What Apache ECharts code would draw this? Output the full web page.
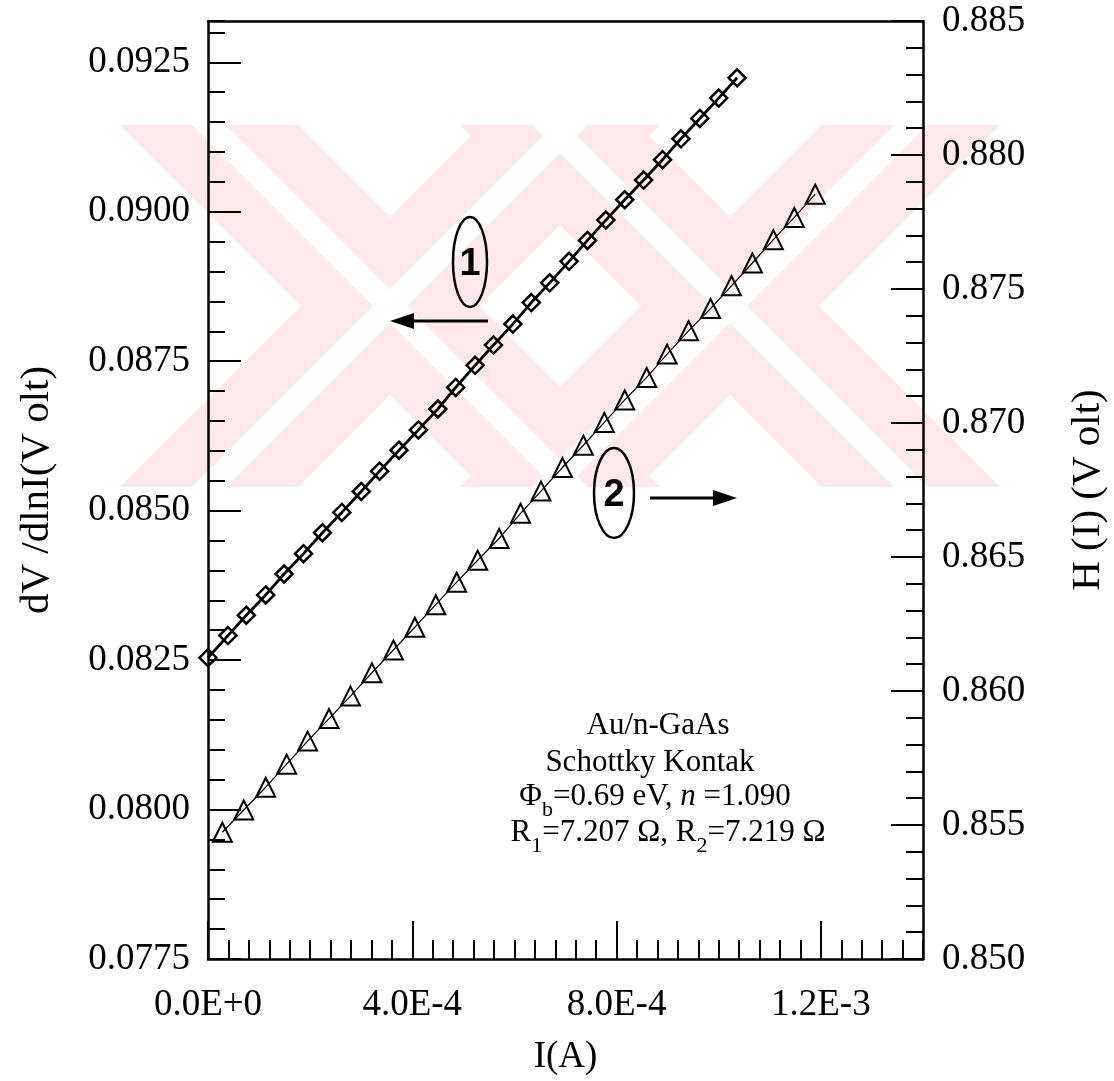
<!DOCTYPE html>
<html>
<head>
<meta charset="utf-8">
<script src="https://cdn.jsdelivr.net/npm/echarts@6/dist/echarts.min.js"></script>
<style>
  html, body { margin: 0; padding: 0; background: #fff; }
  #chart { width: 1114px; height: 1081px; }
</style>
</head>
<body>
<div id="chart"></div>
<script>
// curve 1: dV/dlnI (left axis), diamonds
var current1 = [0, 3.9e-5, 7.5e-5, 1.13e-4, 1.49e-4, 1.87e-4, 2.24e-4, 2.62e-4, 3.0e-4, 3.36e-4,
  3.74e-4, 4.12e-4, 4.5e-4, 4.85e-4, 5.23e-4, 5.59e-4, 5.97e-4, 6.33e-4, 6.69e-4, 7.07e-4,
  7.43e-4, 7.79e-4, 8.16e-4, 8.53e-4, 8.9e-4, 9.26e-4, 9.63e-4, 1.0e-3, 1.036e-3];
var dvdlni = [0.08254, 0.08291, 0.08325, 0.08359, 0.08394, 0.08428, 0.08463, 0.08497, 0.08532, 0.08566,
  0.08601, 0.08635, 0.08670, 0.08706, 0.08743, 0.08777, 0.08812, 0.08848, 0.08881, 0.08917,
  0.08952, 0.08986, 0.09020, 0.09053, 0.09087, 0.09122, 0.09156, 0.09190, 0.09224];

// curve 2: H(I) (right axis), triangles
var current2 = [2.8e-5, 7.0e-5, 1.13e-4, 1.54e-4, 1.95e-4, 2.37e-4, 2.79e-4, 3.21e-4, 3.63e-4, 4.05e-4,
  4.46e-4, 4.87e-4, 5.28e-4, 5.70e-4, 6.12e-4, 6.52e-4, 6.94e-4, 7.35e-4, 7.76e-4, 8.16e-4,
  8.59e-4, 8.99e-4, 9.41e-4, 9.84e-4, 1.025e-3, 1.066e-3, 1.107e-3, 1.148e-3, 1.189e-3];
var hValues = [0.85473, 0.85556, 0.85641, 0.85727, 0.85813, 0.85897, 0.85981, 0.86068, 0.86153, 0.86238,
  0.86322, 0.86406, 0.86488, 0.86569, 0.86663, 0.86746, 0.86834, 0.86917, 0.87002, 0.87086,
  0.87170, 0.87257, 0.87344, 0.87427, 0.87512, 0.87597, 0.87684, 0.87767, 0.87854];

// axis ranges
var xRange = [0, 1.4e-3];
var leftRange = [0.0775, 0.09319];
var rightRange = [0.850, 0.885];

var FONT = '"Liberation Serif", "DejaVu Serif", serif';
var PINK = '#fde9ed';

var myChart = echarts.init(document.getElementById('chart'));

function zip(xs, ys) {
  return xs.map(function (x, i) { return [x, ys[i]]; });
}

// watermark: two double-stroked X shapes clipped to a horizontal band
function bandPoly(cx, dir, half, y0, y1, cy) {
  var a = cx + dir * (y0 - cy), b = cx + dir * (y1 - cy);
  return [[a - half, y0], [a + half, y0], [b + half, y1], [b - half, y1]];
}
var wmCenters = [390, 730];
var wm = [];
wmCenters.forEach(function (cx) {
  [1, -1].forEach(function (dir) {
    wm.push({ type: 'polygon', z: -10, silent: true,
      shape: { points: bandPoly(cx, dir, 89, 125, 487, 306) }, style: { fill: PINK } });
  });
});
wmCenters.forEach(function (cx) {
  [1, -1].forEach(function (dir) {
    wm.push({ type: 'polygon', z: -9, silent: true,
      shape: { points: bandPoly(cx, dir, 17, 125, 487, 306) }, style: { fill: '#fff' } });
  });
});

var txt = { fontFamily: FONT, fontSize: 31, fill: '#000' };
function label(x, y, text, rich) {
  return { type: 'text', x: x, y: y, z: 50,
    style: Object.assign({}, txt, { text: text, align: 'center', verticalAlign: 'middle', rich: rich }) };
}
// normal glyphs hang from the top of the line, subscripts sit at its bottom
var richSub = {
  n: { fontFamily: FONT, fontSize: 31, lineHeight: 32, verticalAlign: 'top' },
  i: { fontFamily: FONT, fontSize: 31, lineHeight: 32, fontStyle: 'italic', verticalAlign: 'top' },
  s: { fontFamily: FONT, fontSize: 22, lineHeight: 40, verticalAlign: 'bottom' }
};

var graphics = wm.concat([
  label(658, 726, 'Au/n-GaAs'),
  label(650, 763, 'Schottky Kontak'),
  label(655, 801, '{n|Φ}{s|b}{n|=0.69 eV, }{i|n}{n| =1.090}', richSub),
  label(668, 837, '{n|R}{s|1}{n|=7.207 Ω, R}{s|2}{n|=7.219 Ω}', richSub),
  // curve markers
  { type: 'ellipse', z: 50, shape: { cx: 470, cy: 262, rx: 17, ry: 45 }, style: { fill: 'none', stroke: '#000', lineWidth: 2.5 } },
  { type: 'text', z: 51, x: 470, y: 265, style: { text: '1', font: 'bold 38px "Liberation Sans", Arial, sans-serif', fill: '#000', align: 'center', verticalAlign: 'middle' } },
  { type: 'line', z: 50, shape: { x1: 488, y1: 321, x2: 412, y2: 321 }, style: { stroke: '#000', lineWidth: 3 } },
  { type: 'polygon', z: 50, shape: { points: [[390, 321], [414, 313], [414, 329]] }, style: { fill: '#000' } },
  { type: 'ellipse', z: 50, shape: { cx: 614, cy: 493, rx: 20, ry: 45 }, style: { fill: 'none', stroke: '#000', lineWidth: 2.5 } },
  { type: 'text', z: 51, x: 614, y: 496, style: { text: '2', font: 'bold 38px "Liberation Sans", Arial, sans-serif', fill: '#000', align: 'center', verticalAlign: 'middle' } },
  { type: 'line', z: 50, shape: { x1: 650, y1: 498, x2: 715, y2: 498 }, style: { stroke: '#000', lineWidth: 3 } },
  { type: 'polygon', z: 50, shape: { points: [[737, 498], [713, 490], [713, 506]] }, style: { fill: '#000' } }
]);

var axisFont = { fontFamily: FONT, fontSize: 37, color: '#000' };
var nameFont = { fontFamily: FONT, fontSize: 41, color: '#000' };
var noZeroLine = { onZero: false, lineStyle: { color: '#000', width: 2.5 } };

var option = {
  backgroundColor: '#fff',
  animation: false,
  grid: { left: 208, right: 191, top: 21, bottom: 122, containLabel: false, outerBoundsMode: 'none' },
  graphic: graphics,
  xAxis: [{
    type: 'value', position: 'bottom', min: xRange[0], max: xRange[1], interval: 4e-4,
    name: 'I(A)', nameLocation: 'middle', nameGap: 80,
    nameTextStyle: axisFont,
    axisLine: noZeroLine,
    axisTick: { inside: true, length: 38, lineStyle: { color: '#000', width: 2 } },
    splitLine: { show: false },
    axisLabel: Object.assign({ margin: 28, showMaxLabel: false,
      formatter: function (v) { return v.toExponential(1).toUpperCase(); } }, axisFont)
  }, {
    type: 'value', position: 'bottom', min: xRange[0], max: xRange[1], interval: 4e-5,
    axisLine: { show: false, onZero: false },
    axisTick: { inside: true, length: 19, lineStyle: { color: '#000', width: 2 } },
    axisLabel: { show: false }, splitLine: { show: false }
  }, {
    type: 'value', position: 'top', min: xRange[0], max: xRange[1],
    axisLine: noZeroLine,
    axisTick: { show: false }, axisLabel: { show: false }, splitLine: { show: false }
  }],
  yAxis: [{
    type: 'value', position: 'left', min: leftRange[0], max: leftRange[1], interval: 0.0025,
    name: 'dV /dlnI(V olt)', nameLocation: 'middle', nameGap: 150, nameRotate: 90,
    nameTextStyle: nameFont,
    axisLine: noZeroLine,
    axisTick: { inside: true, length: 33, lineStyle: { color: '#000', width: 2 } },
    splitLine: { show: false },
    axisLabel: Object.assign({ margin: 18, showMaxLabel: false,
      formatter: function (v) { return v.toFixed(4); } }, axisFont)
  }, {
    type: 'value', position: 'right', min: rightRange[0], max: rightRange[1], interval: 0.005,
    name: 'H (I) (V olt)', nameLocation: 'middle', nameGap: 145, nameRotate: 90,
    nameTextStyle: nameFont,
    axisLine: noZeroLine,
    axisTick: { inside: true, length: 32, lineStyle: { color: '#000', width: 2 } },
    minorTick: { show: true, splitNumber: 5, length: 17, lineStyle: { color: '#000', width: 2 } },
    splitLine: { show: false },
    axisLabel: Object.assign({ margin: 19, formatter: function (v) { return v.toFixed(3); } }, axisFont)
  }, {
    type: 'value', position: 'left', min: leftRange[0], max: leftRange[1], interval: 0.0005,
    axisLine: { show: false, onZero: false },
    axisTick: { inside: true, length: 17, lineStyle: { color: '#000', width: 2 } },
    axisLabel: { show: false }, splitLine: { show: false }
  }],
  series: [{
    name: 'dV/dlnI', type: 'line', xAxisIndex: 0, yAxisIndex: 0,
    data: zip(current1, dvdlni),
    symbol: 'diamond', symbolSize: 17,
    lineStyle: { color: '#000', width: 2.8 },
    itemStyle: { color: 'rgba(255,255,255,0)', borderColor: '#000', borderWidth: 2.5 },
    z: 5
  }, {
    name: 'H(I)', type: 'line', xAxisIndex: 0, yAxisIndex: 1,
    data: zip(current2, hValues),
    symbol: 'triangle', symbolSize: 19,
    lineStyle: { color: '#000', width: 1.2 },
    itemStyle: { color: 'rgba(0,0,0,0)', borderColor: '#000', borderWidth: 2 },
    z: 5
  }]
};

myChart.setOption(option);
</script>
</body>
</html>
